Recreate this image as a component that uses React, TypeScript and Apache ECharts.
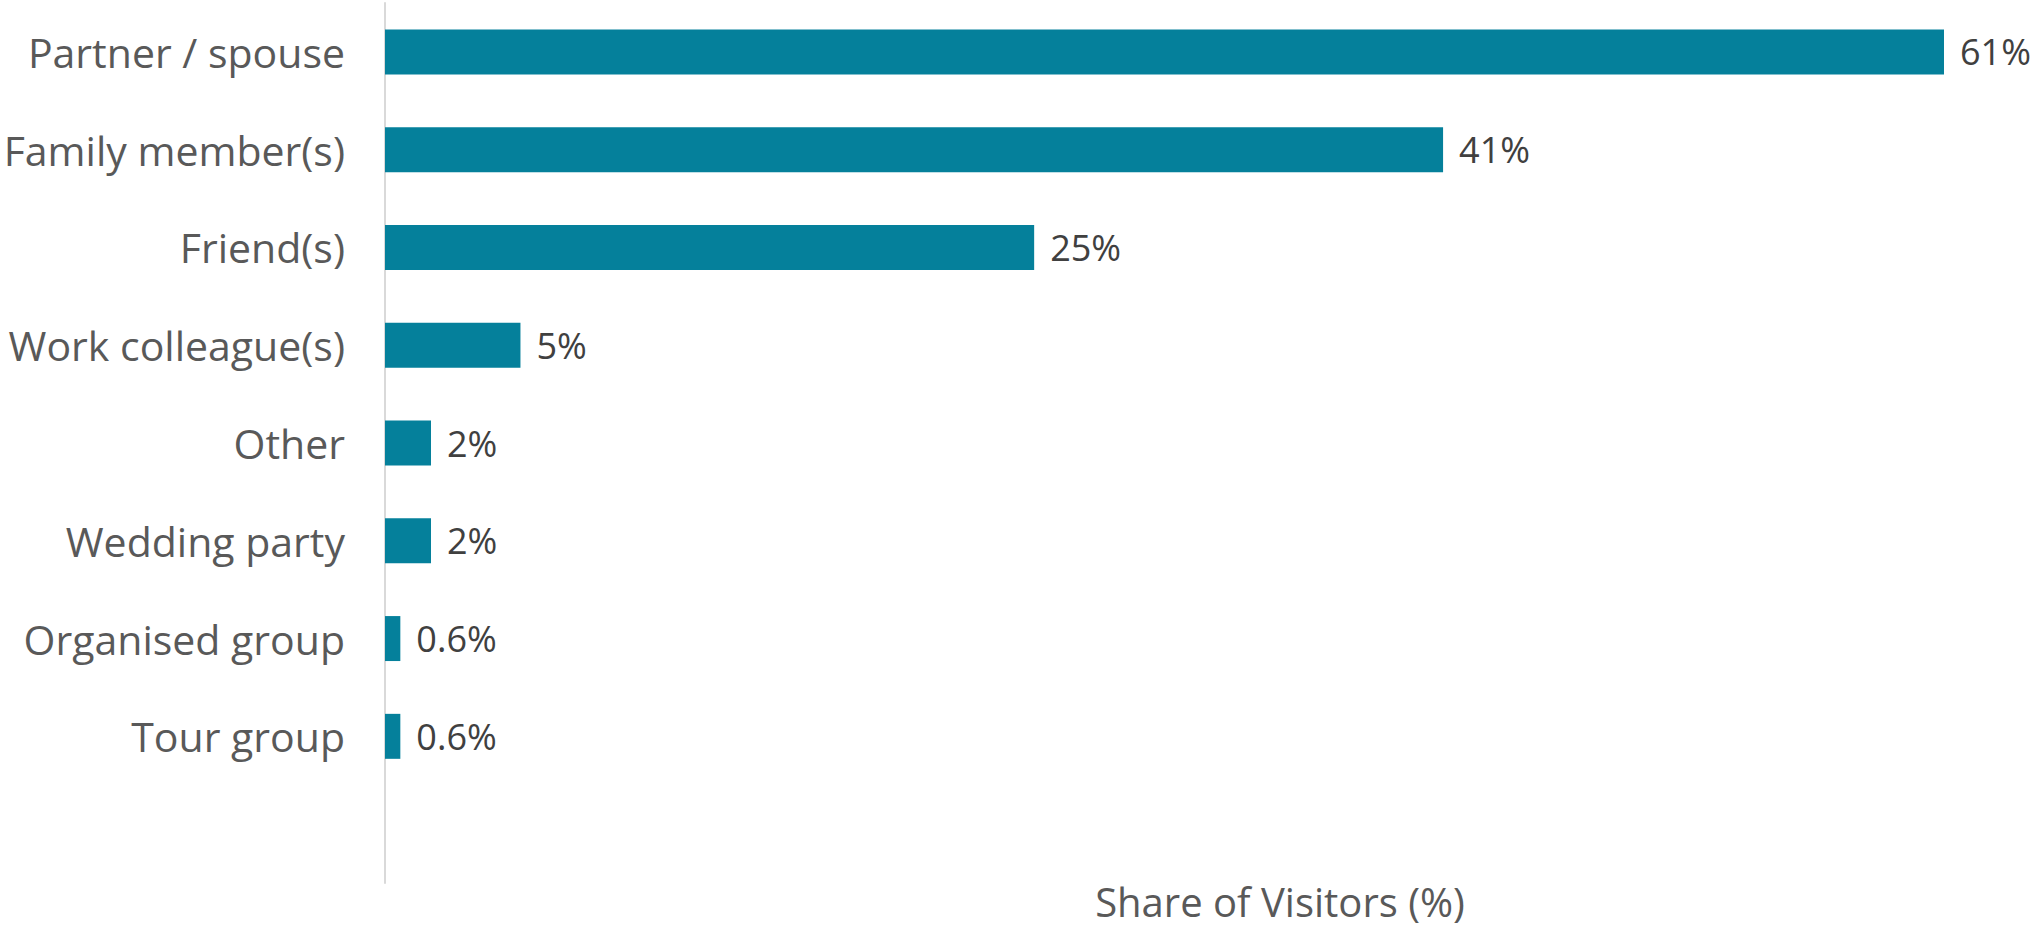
import React, { useEffect, useRef } from "react";
import * as echarts from "echarts";

const categories = [
  "Partner / spouse",
  "Family member(s)",
  "Friend(s)",
  "Work colleague(s)",
  "Other",
  "Wedding party",
  "Organised group",
  "Tour group",
  "",
];
const values: (number | null)[] = [61.0, 41.4, 25.4, 5.3, 1.8, 1.8, 0.6, 0.6, null];
const valueLabels = ["61%", "41%", "25%", "5%", "2%", "2%", "0.6%", "0.6%", ""];
const axisTitle = "Share of Visitors (%)";

const FONT = "'Open Sans', 'Liberation Sans', sans-serif";

export default function App() {
  const ref = useRef<HTMLDivElement>(null);
  useEffect(() => {
    if (!ref.current) return;
    const chart = echarts.init(ref.current, undefined, { renderer: "svg" });
    chart.setOption({
      animation: false,
      grid: { left: 385, right: 88, top: 3, bottom: 45, containLabel: false },
      xAxis: {
        type: "value",
        min: 0,
        max: 61,
        axisLine: { show: false },
        axisTick: { show: false },
        axisLabel: { show: false },
        splitLine: { show: false },
        name: axisTitle,
        nameLocation: "middle",
        nameGap: 1,
        nameTextStyle: {
          fontSize: 40,
          lineHeight: 34,
          color: "#595959",
          fontFamily: FONT,
          padding: [0, 0, 0, 231],
          verticalAlign: "top",
        },
      },
      yAxis: {
        type: "category",
        data: categories,
        inverse: true,
        axisLine: { show: true, lineStyle: { color: "#d9d9d9", width: 2 } },
        axisTick: { show: false },
        axisLabel: { color: "#595959", fontSize: 41, margin: 40, fontFamily: FONT },
        splitLine: { show: false },
      },
      series: [
        {
          type: "bar",
          data: values,
          barWidth: "46%",
          itemStyle: { color: "#05809b" },
          label: {
            show: true,
            position: "right",
            distance: 16,
            color: "#404040",
            fontSize: 36,
            fontFamily: FONT,
            formatter: (p: any) => valueLabels[p.dataIndex],
          },
        },
      ],
    });
    return () => chart.dispose();
  }, []);
  return (
    <div
      ref={ref}
      style={{ position: "fixed", left: 0, top: 0, width: 2032, height: 928, background: "#fff" }}
    />
  );
}
